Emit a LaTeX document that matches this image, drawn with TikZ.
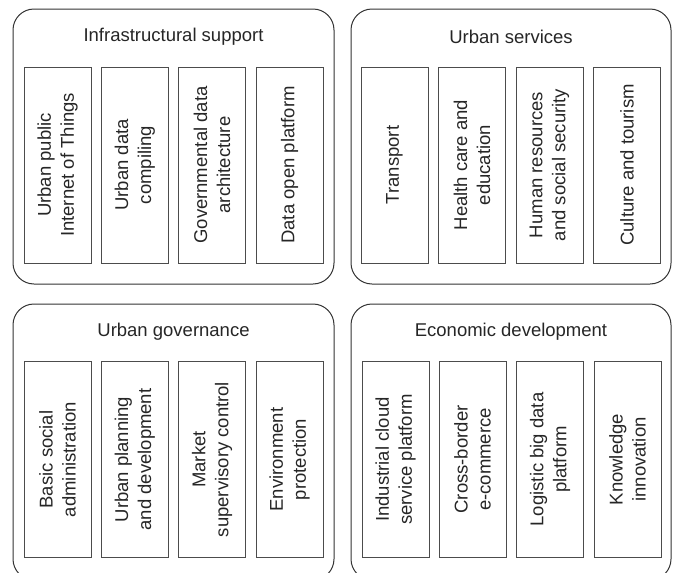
\documentclass[tikz,border=0pt]{standalone}
\usepackage{fontspec}
\setmainfont{Liberation Sans}
\begin{document}
\begin{tikzpicture}[x=1pt,y=-1pt,
  outerbox/.style={draw=black!80, line width=1pt, rounded corners=21pt, inner sep=0pt},
  ttl/.style={text=black!85, font=\fontsize{18.5}{22}\selectfont, inner sep=0pt},
  itembox/.style={draw=black!70, line width=1pt, rotate=90, minimum width=196pt, minimum height=67pt, inner sep=0pt, align=center, text=black!85, font=\fontsize{18.5}{23}\selectfont}]
\useasboundingbox (0,0) rectangle (673,573);
\clip (0,0) rectangle (673,573);
% outer boxes
\node[outerbox, minimum width=321pt, minimum height=275pt] (tl) at (173.5,146.5) {};
\node[outerbox, minimum width=320pt, minimum height=275pt] (tr) at (511,146.5) {};
\node[outerbox, minimum width=321pt, minimum height=276pt] (bl) at (173.5,442) {};
\node[outerbox, minimum width=320pt, minimum height=276pt] (br) at (511,442) {};
% titles
\node[ttl] (tlt) at (173.5,37) {Infrastructural support};
\node[ttl] (trt) at (511,37) {Urban services};
\node[ttl] (blt) at (173.5,332) {Urban governance};
\node[ttl] (brt) at (511,332) {Economic development};
% infrastructural support
\node[itembox] (a1) at (57.5,165) {Urban public\\Internet of Things};
\node[itembox] (a2) at (134.8,165) {Urban data\\compiling};
\node[itembox] (a3) at (212.1,165) {Governmental data\\architecture};
\node[itembox] (a4) at (289.5,165) {Data open platform};
% urban services
\node[itembox] (b1) at (394.5,165) {Transport};
\node[itembox] (b2) at (472,165) {Health care and\\education};
\node[itembox] (b3) at (549.5,165) {Human resources\\and social security};
\node[itembox] (b4) at (627,165) {Culture and tourism};
% urban governance
\node[itembox] (c1) at (57.5,459.5) {Basic social\\administration};
\node[itembox] (c2) at (134.8,459.5) {Urban planning\\and development};
\node[itembox] (c3) at (212.1,459.5) {Market\\supervisory control};
\node[itembox] (c4) at (289.5,459.5) {Environment\\protection};
% economic development
\node[itembox] (d1) at (395.5,459.5) {Industrial cloud\\service platform};
\node[itembox] (d2) at (472.5,459.5) {Cross-border\\e-commerce};
\node[itembox] (d3) at (550,459.5) {Logistic big data\\platform};
\node[itembox] (d4) at (627.5,459.5) {Knowledge\\innovation};
\end{tikzpicture}
\end{document}
